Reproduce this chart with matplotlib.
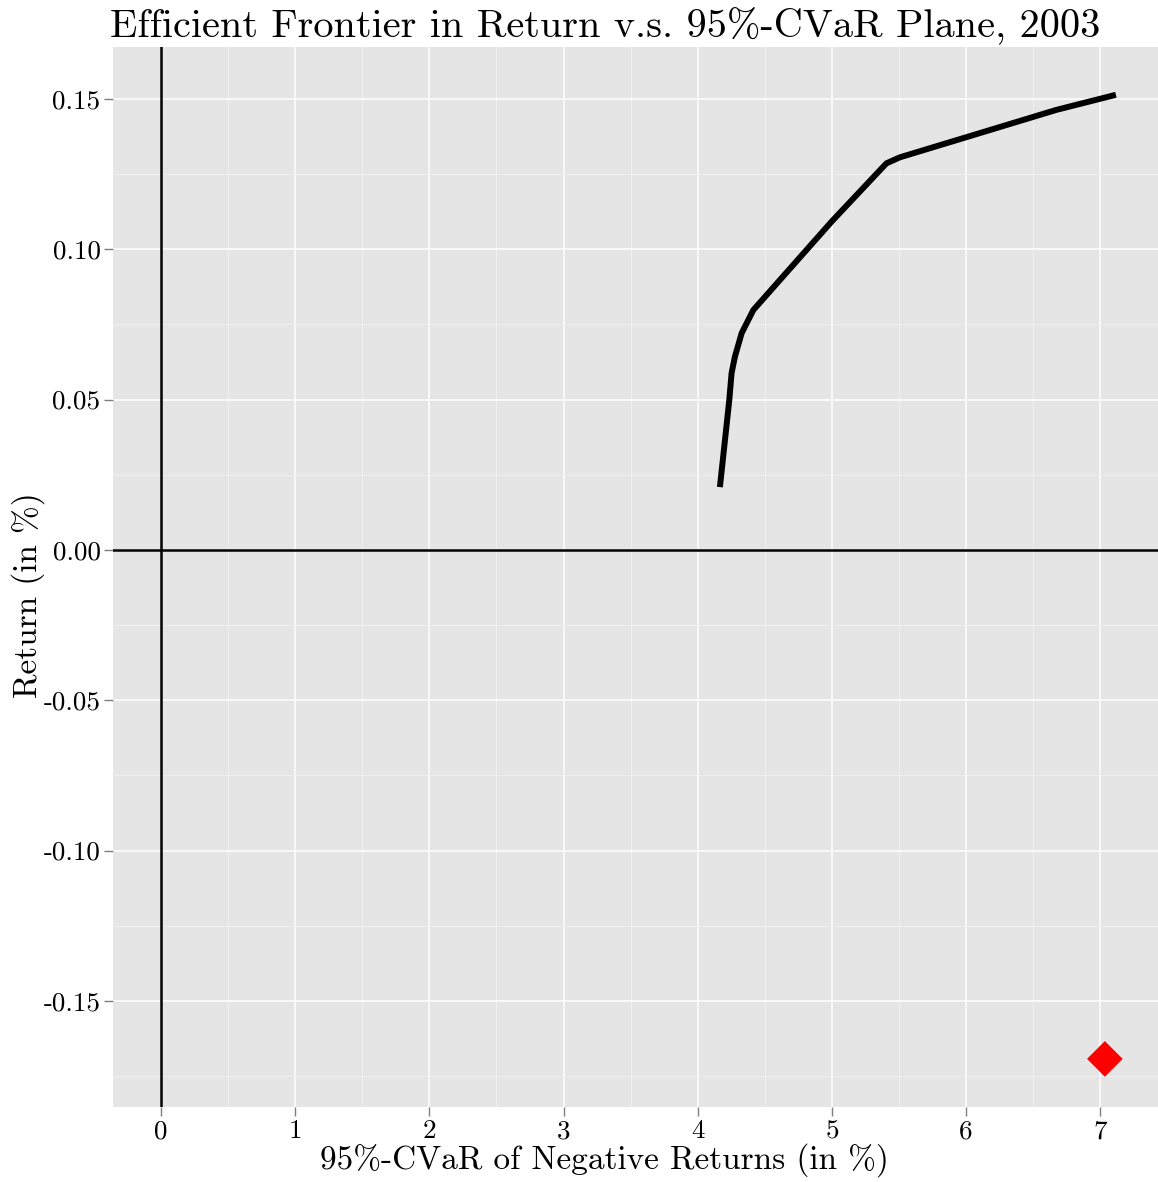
import matplotlib
matplotlib.use("Agg")
import matplotlib.pyplot as plt
import numpy as np

plt.rcParams['font.family'] = ['cmr10', 'DejaVu Serif']
plt.rcParams['axes.unicode_minus'] = False
plt.rcParams['mathtext.fontset'] = 'cm'

# efficient frontier (CVaR in %, return in %)
cvar = [4.165, 4.235, 4.252, 4.277, 4.327, 4.414, 4.997, 5.406, 5.506, 6.674, 7.116]
ret = [0.0209, 0.0499, 0.0588, 0.0643, 0.0721, 0.0798, 0.1092, 0.1286, 0.1306, 0.1464, 0.1514]

# benchmark portfolio
bench_cvar = [7.034]
bench_ret = [-0.1693]

xticks = [0, 1, 2, 3, 4, 5, 6, 7]
yticks = [-0.15, -0.10, -0.05, 0.00, 0.05, 0.10, 0.15]
ytick_labels = ["-0.15", "-0.10", "-0.05", "0.00", "0.05", "0.10", "0.15"]

W, H = 1158, 1182
fig = plt.figure(figsize=(W / 100, H / 100), dpi=100)
ax = fig.add_axes([113 / W, (H - 1107) / H, (1158 - 113) / W, (1107 - 47) / H])
ax.set_facecolor('#e5e5e5')
for s in ax.spines.values():
    s.set_visible(False)

ax.set_xticks(xticks)
ax.set_xticklabels([str(t) for t in xticks])
ax.set_xticks(np.arange(-0.5, 7.5, 1.0), minor=True)
ax.set_yticks(yticks)
ax.set_yticklabels(ytick_labels)
ax.set_yticks(np.arange(-0.175, 0.17, 0.05), minor=True)

# limits after ticks so the minor ticks don't widen the view
ax.set_xlim(-0.358, 7.43)
ax.set_ylim(-0.1853, 0.1673)

ax.grid(which='major', color='white', linewidth=1.1)
ax.grid(which='minor', color='#f2f2f2', linewidth=0.6)
ax.set_axisbelow(True)
ax.tick_params(which='major', length=6.5, width=1, color='#7f7f7f',
               labelsize=19.5, pad=2.5)
ax.tick_params(which='minor', length=0)

ax.axhline(0, color='black', linewidth=1.8, zorder=2)
ax.axvline(0, color='black', linewidth=1.8, zorder=2)

ax.plot(cvar, ret, color='black', linewidth=4.3, solid_capstyle='butt',
        solid_joinstyle='round', zorder=3)
ax.scatter(bench_cvar, bench_ret, marker='D', s=330, color='#ff0000',
           edgecolor='none', zorder=4)

fig.text(604 / W, 1 - 1160 / H, "95%-CVaR of Negative Returns (in %)",
         ha='center', va='center', fontsize=24)
fig.text(28 / W, 1 - 595 / H, "Return (in %)", rotation=90,
         ha='center', va='center', fontsize=24)
fig.text(110 / W, 1 - 26 / H, "Efficient Frontier in Return v.s. 95%-CVaR Plane, 2003",
         ha='left', va='center', fontsize=29)

fig.savefig("out.png", dpi=100)
